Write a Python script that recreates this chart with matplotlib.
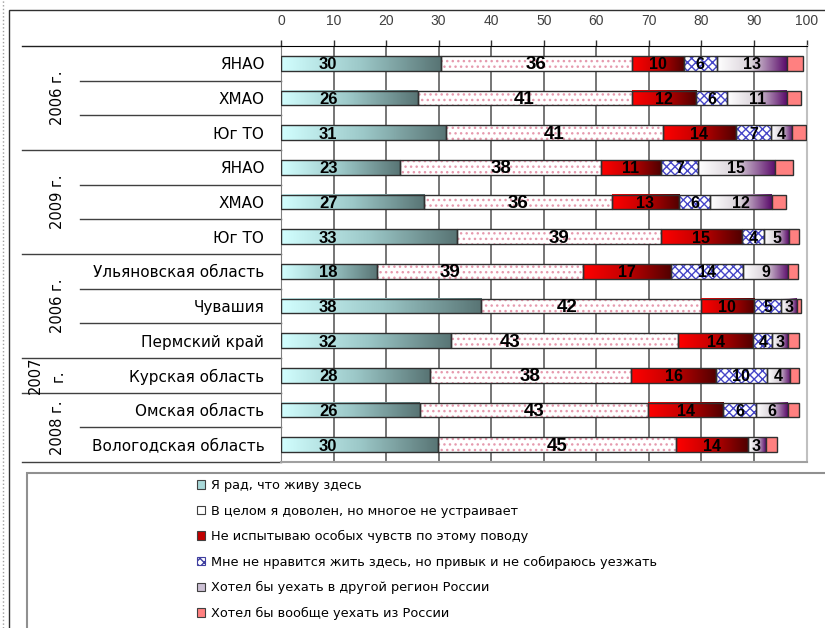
import numpy as np
import matplotlib.pyplot as plt
import matplotlib.transforms as mtransforms
from matplotlib.colors import LinearSegmentedColormap
from matplotlib.patches import Rectangle
from matplotlib.lines import Line2D

plt.rcParams['font.family'] = ['DejaVu Sans']

# rows, top to bottom
regions = ['ЯНАО', 'ХМАО', 'Юг ТО', 'ЯНАО', 'ХМАО', 'Юг ТО',
           'Ульяновская область', 'Чувашия', 'Пермский край',
           'Курская область', 'Омская область', 'Вологодская область']
groups = ['2006 г.', '2009 г.', '2006 г.', '2007 г.', '2008 г.']
group_sizes = [3, 3, 3, 1, 2]

answers = ['Я рад, что живу здесь',
           'В целом я доволен, но многое не устраивает',
           'Не испытываю особых чувств по этому поводу',
           'Мне не нравится жить здесь, но привык и не собираюсь уезжать',
           'Хотел бы уехать в другой регион России',
           'Хотел бы вообще уехать из России']

# shares, %
glad = [30.4, 26.0, 31.4, 22.7, 27.3, 33.4, 18.3, 38.1, 32.4, 28.3, 26.4, 29.9]
content = [36.3, 40.7, 41.2, 38.2, 35.6, 38.9, 39.1, 41.8, 43.1, 38.3, 43.4, 45.2]
indifferent = [10.0, 12.2, 14.0, 11.4, 12.8, 15.4, 16.9, 10.1, 14.4, 16.2, 14.4, 13.7]
used_to = [6.2, 6.0, 6.6, 7.0, 6.0, 4.3, 13.6, 5.2, 3.6, 9.6, 6.2, 0.0]
other_region = [13.3, 11.4, 4.0, 14.7, 11.7, 4.6, 8.6, 3.0, 2.9, 4.4, 6.0, 3.4]
abroad = [3.2, 2.7, 2.8, 3.5, 2.7, 2.0, 1.8, 0.8, 2.1, 1.7, 2.2, 2.2]

series = [glad, content, indifferent, used_to, other_region, abroad]

# some labels of the 2nd series were moved by hand in the original
content_label_x = {6: 32.2, 7: 54.4, 8: 43.6}

cm_glad = LinearSegmentedColormap.from_list('glad', ['#D2FFFF', '#9CC8C8', '#587474'])
cm_red = LinearSegmentedColormap.from_list('red', ['#FF0000', '#C00000', '#500000'])
cm_purple = LinearSegmentedColormap.from_list('purple', ['#FFFFFF', '#D8D0D8', '#5A0A6A'])
gradients = {0: cm_glad, 2: cm_red, 4: cm_purple}

W, H = 825, 628
fig = plt.figure(figsize=(W / 100, H / 100), dpi=100)
ax_l, ax_r, ax_t, ax_b = 281, 806.5, 46, 462
ax = fig.add_axes([ax_l / W, 1 - ax_b / H, (ax_r - ax_l) / W, (ax_b - ax_t) / H])

n = len(regions)
y = np.arange(n)
bh = 0.42
edge = '#303030'
grad = np.linspace(0, 1, 256).reshape(1, -1)

left = np.zeros(n)
for k, vals in enumerate(series):
    vals = np.array(vals)
    if k in gradients:
        for i in range(n):
            if vals[i] > 0:
                ax.imshow(grad, cmap=gradients[k], aspect='auto', interpolation='bilinear',
                          extent=(left[i], left[i] + vals[i], y[i] + bh / 2, y[i] - bh / 2),
                          zorder=2)
        ax.barh(y, vals, bh, left=left, facecolor='none', edgecolor=edge, lw=1, zorder=3)
    elif k == 1:
        ax.barh(y, vals, bh, left=left, facecolor='white', edgecolor='#E69AAE',
                hatch='...', lw=0, zorder=2)
        ax.barh(y, vals, bh, left=left, facecolor='none', edgecolor=edge, lw=1, zorder=3)
    elif k == 3:
        ax.barh(y, vals, bh, left=left, facecolor='white', edgecolor='#4646C8',
                hatch='xxxx', lw=0, zorder=2)
        ax.barh(y, np.where(vals > 0, vals, np.nan), bh, left=left, facecolor='none',
                edgecolor=edge, lw=1, zorder=3)
    else:
        ax.barh(y, vals, bh, left=left, facecolor='#FF8080', edgecolor=edge, lw=1, zorder=3)

    if k < 5:
        size = {0: 12, 1: 13.5}.get(k, 11.5)
        for i in range(n):
            if vals[i] <= 0:
                continue
            if k == 0:
                xl = 9
            elif k == 1 and i in content_label_x:
                xl = content_label_x[i]
            else:
                xl = left[i] + vals[i] / 2
            ax.text(xl, y[i] + 0.04, '%.0f' % vals[i], ha='center', va='center',
                    fontsize=size, fontweight='bold', family='Liberation Sans',
                    color='black', zorder=4)
    left = left + vals

ax.set_xlim(0, 100)
ax.set_ylim(n - 0.5, -0.5)
ax.xaxis.tick_top()
ax.set_xticks(range(0, 101, 10))
ax.tick_params(axis='x', length=4, width=1, color='#303030', pad=9,
               labelsize=10, labelcolor='#404040', labelfontfamily='Liberation Sans')
ax.set_yticks(y)
ax.set_yticklabels(regions, fontsize=11)
ax.tick_params(axis='y', length=0, pad=12)
ax.grid(axis='x', color='#505050', lw=1.1)
ax.grid(axis='y', visible=False)
ax.set_axisbelow(True)
ax.spines['top'].set_color('black')
ax.spines['left'].set_color('#808080')
ax.spines['right'].set_color('#C0C0C0')
ax.spines['right'].set_linewidth(1.5)
ax.spines['bottom'].set_color('#A0A0A0')
ax.spines['bottom'].set_linewidth(1.5)

# multi-level category axis on the left
blend = mtransforms.blended_transform_factory(ax.transAxes, ax.transData)
def px(x):
    return (x - ax_l) / (ax_r - ax_l)

starts = np.cumsum([0] + group_sizes)
for b in range(n + 1):
    x0 = px(22) if b in starts else px(80)
    ax.add_line(Line2D([x0, 0], [b - 0.5, b - 0.5], transform=blend, color='#202020' if b == 0 else '#404040',
                       lw=1, clip_on=False))

for g, name in enumerate(groups):
    yc = (starts[g] + starts[g + 1]) / 2 - 0.5
    if group_sizes[g] == 1:
        year, suffix = name.split(' ')
        ax.text(px(35), yc, year, rotation=90, ha='center', va='center',
                fontsize=10.5, transform=blend)
        ax.text(px(58), yc, suffix, rotation=90, ha='center', va='center',
                fontsize=10.5, transform=blend)
    else:
        ax.text(px(57), yc, name, rotation=90, ha='center', va='center',
                fontsize=10.5, transform=blend)

# chart frame, legend box and the dotted edge of the sheet
fig.add_artist(Rectangle((9 / W, -0.1), 1.2, 1.1 - 10.5 / H, transform=fig.transFigure,
                         fill=False, ec='#303030', lw=1))
fig.add_artist(Rectangle((26.5 / W, -0.1), 1.2, 1.1 - 473 / H, transform=fig.transFigure,
                         fill=False, ec='#909090', lw=1.5))
fig.add_artist(Line2D([3 / W, 3 / W], [0, 1], transform=fig.transFigure,
                      color='#A0A0A0', lw=1, ls=':'))

handles = [
    Rectangle((0, 0), 1, 1, fc='#A8D8D8', ec='#404040', lw=0.8),
    Rectangle((0, 0), 1, 1, fc='white', ec='#404040', lw=0.8),
    Rectangle((0, 0), 1, 1, fc='#C00000', ec='#404040', lw=0.8),
    Rectangle((0, 0), 1, 1, fc='white', ec='#4040A0', hatch='xxxx', lw=0.8),
    Rectangle((0, 0), 1, 1, fc='#CCC0D4', ec='#404040', lw=0.8),
    Rectangle((0, 0), 1, 1, fc='#FF8080', ec='#404040', lw=0.8),
]
fig.legend(handles, answers, loc='upper left', bbox_to_anchor=(197 / W, 1 - 479 / H),
           frameon=False, fontsize=9.3, handlelength=0.6, handleheight=0.6,
           handletextpad=0.45, labelspacing=0.97, borderpad=0, borderaxespad=0)

fig.savefig('out.png', dpi=100)
